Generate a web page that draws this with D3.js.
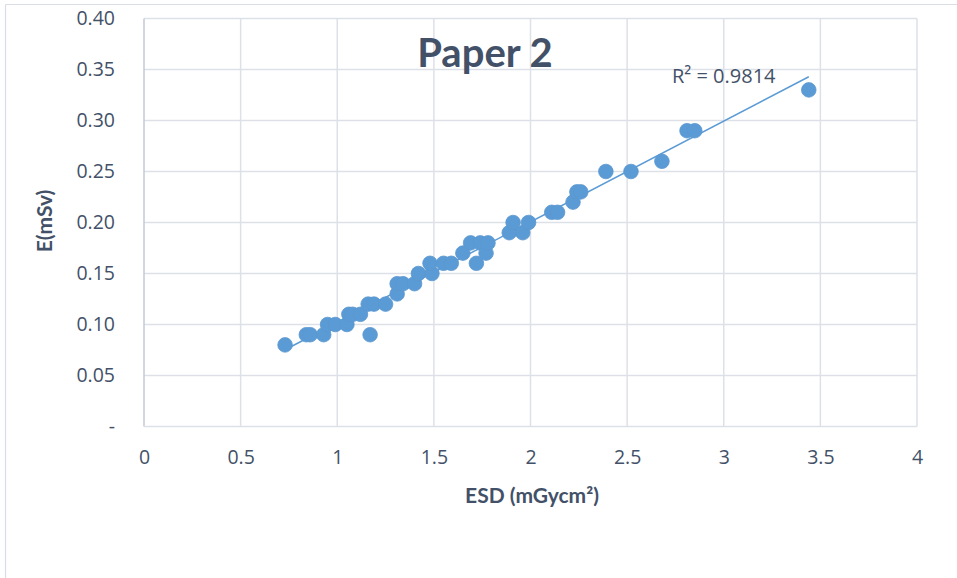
<!DOCTYPE html>
<html><head><meta charset="utf-8">
<script src="https://cdn.jsdelivr.net/npm/d3@7"></script>
<style>html,body{margin:0;padding:0;background:#fff;}</style>
</head><body>
<script>
const esd = [0.73,0.84,0.86,0.93,0.95,0.99,1.05,1.06,1.08,1.12,1.16,1.19,1.17,1.25,1.31,1.31,1.34,1.40,1.42,1.49,1.48,1.55,1.59,1.65,1.69,1.72,1.74,1.77,1.78,1.89,1.91,1.96,1.99,2.11,2.14,2.22,2.24,2.26,2.39,2.52,2.68,2.81,2.85,3.44];
const eff = [0.08,0.09,0.09,0.09,0.10,0.10,0.10,0.11,0.11,0.11,0.12,0.12,0.09,0.12,0.13,0.14,0.14,0.14,0.15,0.15,0.16,0.16,0.16,0.17,0.18,0.16,0.18,0.17,0.18,0.19,0.20,0.19,0.20,0.21,0.21,0.22,0.23,0.23,0.25,0.25,0.26,0.29,0.29,0.33];
const xTicks = [0,0.5,1,1.5,2,2.5,3,3.5,4];
const yTicks = [0,0.05,0.10,0.15,0.20,0.25,0.30,0.35,0.40];
const title = "Paper 2";
const rLabel = "R² = 0.9814";

const W = 957, H = 578;
const svg = d3.select("body").append("svg").attr("width", W).attr("height", H);
const L = 144, R = 917, T = 18.5, B = 426.5;
const x = d3.scaleLinear().domain([0,4]).range([L,R]);
const y = d3.scaleLinear().domain([0,0.4]).range([B,T]);
const txt = "#435168";

// outer frame (partially visible)
svg.append("line").attr("x1",5.5).attr("x2",W).attr("y1",4.5).attr("y2",4.5).attr("stroke","#d9dde5").attr("stroke-width",1.2);
svg.append("line").attr("x1",5.5).attr("x2",5.5).attr("y1",4.5).attr("y2",H).attr("stroke","#d9dde5").attr("stroke-width",1.2);

// gridlines
svg.append("g").selectAll("line").data(yTicks.slice(1)).join("line")
  .attr("x1",L).attr("x2",R).attr("y1",d=>y(d)).attr("y2",d=>y(d))
  .attr("stroke","#dde1e7").attr("stroke-width",1.5);
svg.append("g").selectAll("line").data(xTicks.slice(1)).join("line")
  .attr("x1",d=>x(d)).attr("x2",d=>x(d)).attr("y1",T).attr("y2",B)
  .attr("stroke","#dde1e7").attr("stroke-width",1.5);
// axes lines
svg.append("line").attr("x1",L).attr("x2",L).attr("y1",T).attr("y2",B).attr("stroke","#c3cad4").attr("stroke-width",1.5);
svg.append("line").attr("x1",L).attr("x2",R).attr("y1",B).attr("y2",B).attr("stroke","#dde1e7").attr("stroke-width",1.5);

// axis labels via d3 axes
const yAxis = d3.axisLeft(y).tickValues(yTicks).tickSize(0).tickPadding(29)
  .tickFormat(d => d===0 ? "-" : d3.format(".2f")(d));
const gy = svg.append("g").attr("transform",`translate(${L},0)`).call(yAxis);
gy.select(".domain").remove();
gy.selectAll("text").attr("fill",txt).style("font-family","Open Sans, sans-serif").style("font-size","19.5px");

const xAxis = d3.axisBottom(x).tickValues(xTicks).tickSize(0).tickPadding(24).tickFormat(d3.format("~g"));
const gx = svg.append("g").attr("transform",`translate(0,${B})`).call(xAxis);
gx.select(".domain").remove();
gx.selectAll("text").attr("fill",txt).style("font-family","Open Sans, sans-serif").style("font-size","19.5px");

// trendline (least squares)
const n = esd.length;
const mx = d3.mean(esd), my = d3.mean(eff);
let sxy=0, sxx=0;
for (let i=0;i<n;i++){ sxy += (esd[i]-mx)*(eff[i]-my); sxx += (esd[i]-mx)**2; }
const slope = sxy/sxx, icpt = my - slope*mx;
const [x0,x1] = d3.extent(esd);
svg.append("line").attr("x1",x(x0)).attr("y1",y(icpt+slope*x0)).attr("x2",x(x1)).attr("y2",y(icpt+slope*x1))
  .attr("stroke","#5b9bd5").attr("stroke-width",1.5);

// points
svg.append("g").selectAll("circle").data(esd.map((v,i)=>[v,eff[i]])).join("circle")
  .attr("cx",d=>x(d[0])).attr("cy",d=>y(d[1])).attr("r",7.3)
  .attr("fill","#5b9bd5").attr("stroke","#5a97cf").attr("stroke-width",0.8);

// title
svg.append("text").attr("x",485).attr("y",67).attr("text-anchor","middle")
  .attr("fill",txt).style("font-family","Lato, sans-serif").style("font-weight","bold").style("font-size","40px").text(title);
// R2
svg.append("text").attr("x",672).attr("y",83).attr("fill",txt)
  .style("font-family","Open Sans, sans-serif").style("font-size","20px").text(rLabel);
// axis titles
svg.append("text").attr("x",532).attr("y",503).attr("text-anchor","middle").attr("fill",txt)
  .style("font-family","Lato, sans-serif").style("font-weight","bold").style("font-size","21px").text("ESD (mGycm²)");
svg.append("text").attr("transform","translate(52,221) rotate(-90)").attr("text-anchor","middle").attr("fill",txt)
  .style("font-family","Lato, sans-serif").style("font-weight","bold").style("font-size","21px").text("E(mSv)");
</script>
</body></html>
